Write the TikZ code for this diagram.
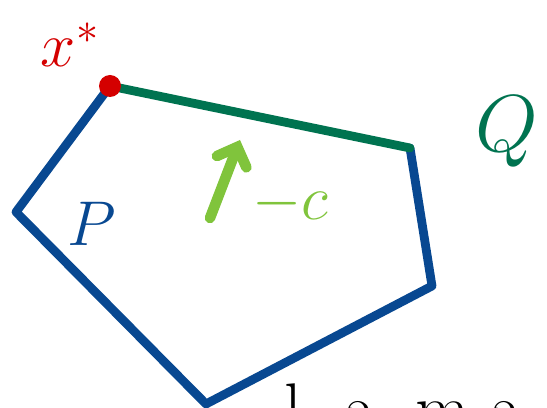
\RequirePackage{fix-cm}
\documentclass[tikz,border=0pt]{standalone}
\usepackage{amsmath,amssymb}
\usepackage{tikz}
\usetikzlibrary{arrows.meta,positioning,calc}

\definecolor{polyblue}{RGB}{8,72,145}
\definecolor{facegreen}{RGB}{0,115,80}
\definecolor{costgreen}{RGB}{128,196,60}
\definecolor{optred}{RGB}{212,0,0}

\tikzset{
  edge/.style={line width=5pt,line cap=round,line join=round},
  lbl/.style={inner sep=0pt,font=\fontsize{36}{40}\selectfont},
}

\begin{document}
\begin{tikzpicture}[>=Stealth,thick,x=0.02cm,y=-0.02cm]
\useasboundingbox (0,0) rectangle (547,408);
\clip (0,0) rectangle (547,408);
% vertices of P
\coordinate (xs) at (110,86);
\coordinate (vl) at (16,212);
\coordinate (vb) at (206,404);
\coordinate (vr) at (432,286);
\coordinate (vt) at (410,148);
\draw[edge,polyblue] (vt) -- (vr) -- (vb) -- (vl) -- (xs);
\draw[edge,facegreen] (xs) -- (vt);
\fill[optred] (xs) circle (11);
\node[lbl,optred] (xlbl) at (70,45) {$x^{*}$};
\node[lbl,polyblue] (plbl) at (92,224) {$P$};
\node[lbl,facegreen,font=\fontsize{46}{50}\selectfont] (qlbl) at (507,132) {$Q$};
% cost direction
\coordinate (ctail) at (210,218);
\coordinate (chead) at (240,140);
\draw[costgreen,line width=6pt,line cap=round,-{Straight Barb[length=9pt,width=18pt,line cap=round]}] (ctail) -- (chead);
\node[lbl,costgreen,anchor=west] (clbl) at (252,204) {$-c$};
% cut-off text at the bottom
\node[lbl,anchor=base west,font=\fontsize{40}{44}\selectfont] (bottom) at (284,432) {l\hspace{0.6em}a\hspace{0.55em}m\hspace{0.3em}a};
\end{tikzpicture}
\end{document}
